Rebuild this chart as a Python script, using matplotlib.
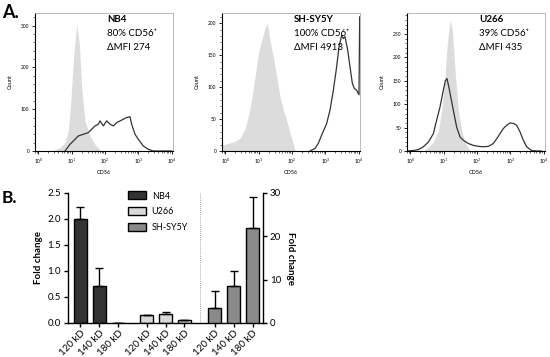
import matplotlib
matplotlib.use("Agg")
import matplotlib.pyplot as plt
import numpy as np
from matplotlib.ticker import LogLocator, NullFormatter, MultipleLocator

plt.rcParams['font.family'] = ['Lato', 'DejaVu Sans']

# ---------------- Panel A data (log10 CD56 intensity, counts) ----------------
nb4_iso_x = [0.40, 0.65, 0.80, 0.90, 0.97, 1.05, 1.15, 1.23, 1.30, 1.40, 1.55, 1.70, 1.85, 1.90]
nb4_iso_y = [0, 8, 20, 48, 112, 216, 304, 256, 152, 72, 36, 16, 2, 0]
nb4_x = [0.80, 0.95, 1.10, 1.20, 1.35, 1.50, 1.60, 1.70, 1.80, 1.85, 1.95, 2.05, 2.15, 2.25,
         2.35, 2.45, 2.55, 2.65, 2.75, 2.80, 2.90, 3.00, 3.15, 3.30, 3.45, 4.0]
nb4_y = [0, 16, 28, 36, 40, 44, 52, 60, 64, 72, 60, 72, 64, 60,
         68, 72, 76, 80, 82, 64, 40, 28, 12, 4, 0, 0]

sh_iso_x = [-0.10, 0.09, 0.29, 0.44, 0.59, 0.69, 0.79, 0.89, 0.99, 1.09, 1.19, 1.26, 1.34,
            1.44, 1.54, 1.64, 1.74, 1.84, 1.94, 2.04, 2.09]
sh_iso_y = [9, 12, 15, 20, 35, 54, 80, 116, 153, 173, 192, 200, 173,
            147, 116, 85, 64, 48, 28, 12, 0]
sh_x = [2.54, 2.69, 2.79, 2.89, 3.04, 3.14, 3.24, 3.34, 3.41, 3.49, 3.54, 3.59, 3.67,
        3.74, 3.81, 3.87, 3.94, 4.01, 4.03]
sh_y = [0, 4, 12, 25, 43, 64, 95, 132, 163, 181, 176, 179, 158,
        132, 106, 98, 95, 88, 210]

u266_iso_x = [0.39, 0.54, 0.69, 0.84, 0.94, 1.04, 1.11, 1.19, 1.26, 1.34, 1.44, 1.54, 1.64, 1.74, 1.79]
u266_iso_y = [0, 9, 19, 44, 87, 159, 230, 280, 259, 173, 87, 44, 19, 5, 0]
u266_x = [-0.10, 0.09, 0.24, 0.39, 0.54, 0.69, 0.79, 0.89, 0.99, 1.05, 1.10, 1.16, 1.29, 1.39,
          1.49, 1.59, 1.74, 1.89, 2.04, 2.19, 2.34, 2.49, 2.59, 2.69, 2.79, 2.89, 2.99,
          3.09, 3.19, 3.29, 3.39, 3.49, 3.64, 3.79, 3.94]
u266_y = [0, 1, 3, 9, 19, 37, 66, 94, 130, 150, 155, 135, 87, 51,
          30, 23, 16, 12, 10, 9, 10, 16, 26, 37, 48, 55, 60,
          59, 55, 41, 23, 9, 1, 0, 0]

panel_titles = ["NB4", "SH-SY5Y", "U266"]
panel_pct = ["80% CD56\u207a", "100% CD56\u207a", "39% CD56\u207a"]
panel_mfi = ["\u0394MFI 274", "\u0394MFI 4913", "\u0394MFI 435"]
panel_ymax = [330, 216, 295]
panel_ystep = [100, 50, 50]

# ---------------- Panel B data ----------------
kd_labels = ["120 kD", "140 kD", "180 kD"]
nb4_fc = [2.0, 0.72, 0.0]
nb4_err = [0.24, 0.34, 0.0]
u266_fc = [0.15, 0.17, 0.05]
u266_err = [0.005, 0.04, 0.005]
sh_fc = [3.5, 8.6, 22.0]
sh_err = [3.8, 3.5, 7.0]

fig = plt.figure(figsize=(5.5, 3.57), dpi=100)
W, H = 550, 357

def ax_px(l, t, r, b):
    return [l / W, 1 - b / H, (r - l) / W, (b - t) / H]

iso_color = '#dcdcdc'
line_color = '#333333'

histos = [(nb4_iso_x, nb4_iso_y, nb4_x, nb4_y),
          (sh_iso_x, sh_iso_y, sh_x, sh_y),
          (u266_iso_x, u266_iso_y, u266_x, u266_y)]
lefts = [35, 222, 407]
for i, (ix, iy, sx, sy) in enumerate(histos):
    ax = fig.add_axes(ax_px(lefts[i], 13, lefts[i] + 138, 151))
    ax.fill_between(10 ** np.array(ix), iy, 0, color=iso_color, lw=0)
    ax.plot(10 ** np.array(sx), sy, color=line_color, lw=0.9)
    ax.set_xscale('log')
    ax.set_xlim(10 ** -0.1, 10 ** 4.04)
    ax.set_ylim(0, panel_ymax[i])
    ax.xaxis.set_major_locator(LogLocator(base=10, numticks=10))
    ax.xaxis.set_minor_locator(LogLocator(base=10, subs=np.arange(2, 10), numticks=10))
    ax.xaxis.set_minor_formatter(NullFormatter())
    ax.yaxis.set_major_locator(MultipleLocator(panel_ystep[i]))
    ax.yaxis.set_minor_locator(MultipleLocator(panel_ystep[i] / 5))
    ax.tick_params(axis='both', which='major', labelsize=3.5, length=2.5, width=0.6, pad=1.5)
    ax.tick_params(axis='both', which='minor', length=1.2, width=0.4)
    for s in ['left', 'bottom']:
        ax.spines[s].set_linewidth(0.8)
    for s in ['top', 'right']:
        ax.spines[s].set_color('#b0b0b0')
        ax.spines[s].set_linewidth(0.6)
    ax.set_ylabel('Count', fontsize=4, labelpad=6)
    ax.set_xlabel('CD56', fontsize=4, labelpad=3)
    ax.text(0.52, 0.985, panel_titles[i], transform=ax.transAxes, fontsize=7,
            fontweight='bold', va='top', ha='left')
    ax.text(0.52, 0.885, panel_pct[i], transform=ax.transAxes, fontsize=7,
            va='top', ha='left')
    ax.text(0.52, 0.785, panel_mfi[i], transform=ax.transAxes, fontsize=7,
            va='top', ha='left')

fig.text(2 / W, 1 - 4 / H, 'A.', fontsize=13, fontweight='bold', va='top', ha='left')
fig.text(2 / W, 1 - 190 / H, 'B.', fontsize=12.5, fontweight='bold', va='top', ha='left')

# ---------------- Panel B ----------------
axb = fig.add_axes(ax_px(68, 193, 263, 323))
pos_nb4 = np.array([0, 1, 2])
pos_u266 = np.array([3.5, 4.5, 5.5])
pos_sh = np.array([7.1, 8.1, 9.1])
bw = 0.68
ek = dict(lw=1.0, capthick=1.0, ecolor='black')
axb.bar(pos_nb4, nb4_fc, bw, color='#333333', edgecolor='black', lw=1.0, label='NB4',
        yerr=[np.zeros(3), nb4_err], capsize=3, error_kw=ek)
axb.bar(pos_u266, u266_fc, bw, color='#d9d9d9', edgecolor='black', lw=1.0, label='U266',
        yerr=[np.zeros(3), u266_err], capsize=3, error_kw=ek)
axr = axb.twinx()
axr.bar(pos_sh, sh_fc, bw, color='#8a8a8a', edgecolor='black', lw=1.0, label='SH-SY5Y',
        yerr=[np.zeros(3), sh_err], capsize=3, error_kw=ek)
axb.bar([np.nan], [0], bw, color='#8a8a8a', edgecolor='black', lw=1.0, label='SH-SY5Y')

axb.set_xlim(-0.65, 9.65)
axr.set_xlim(-0.65, 9.65)
axb.set_ylim(0, 2.5)
axr.set_ylim(0, 30)
axb.set_yticks([0, 0.5, 1.0, 1.5, 2.0, 2.5])
axb.set_yticklabels(['0.0', '0.5', '1.0', '1.5', '2.0', '2.5'])
axr.set_yticks([0, 10, 20, 30])
axb.axvline(6.3, color='#888888', lw=0.6, ls=(0, (1, 1.5)))

axb.set_xticks(np.concatenate([pos_nb4, pos_u266, pos_sh]))
axb.set_xticklabels(kd_labels * 3, rotation=45, ha='right', rotation_mode='anchor')

for a in (axb, axr):
    a.spines['top'].set_visible(False)
    for s in ['left', 'right', 'bottom']:
        a.spines[s].set_linewidth(1.0)
    a.tick_params(axis='both', labelsize=7, length=3, width=1.0, pad=2)
axb.spines['right'].set_visible(False)
axr.spines['left'].set_visible(False)
axr.spines['bottom'].set_visible(False)
axb.tick_params(axis='x', pad=1)

axb.set_ylabel('Fold change', fontsize=7, fontweight='bold', labelpad=3)
axr.set_ylabel('Fold change', fontsize=7, fontweight='bold', rotation=270, labelpad=10)

axb.legend(loc='upper left', bbox_to_anchor=(0.29, 1.04), frameon=False, fontsize=6.5,
           handlelength=2.0, handleheight=1.0, labelspacing=0.75, handletextpad=0.6,
           borderaxespad=0)

fig.savefig('out.png', dpi=100)
